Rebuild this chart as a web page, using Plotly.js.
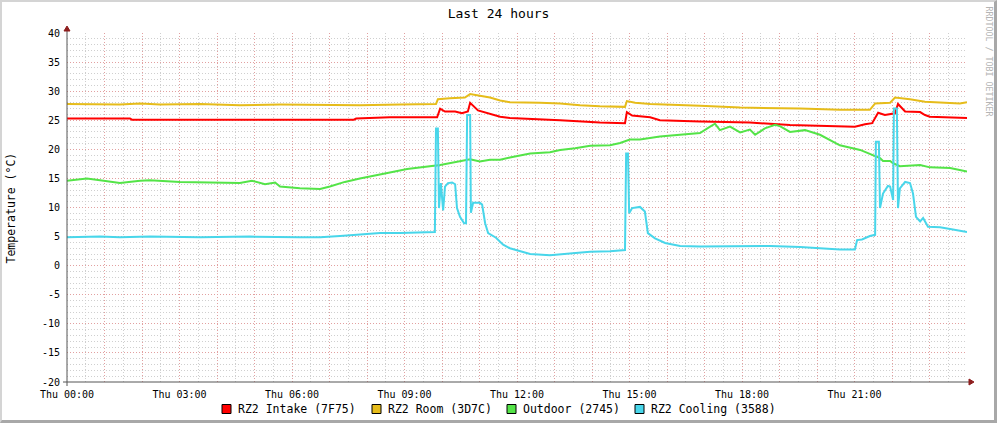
<!DOCTYPE html>
<html>
<head>
<meta charset="utf-8">
<script src="https://cdn.plot.ly/plotly-3.0.1.min.js"></script>
<style>
  html, body { margin: 0; padding: 0; background: #fff; }
  #wrap { position: relative; width: 997px; height: 423px; overflow: hidden; }
  #chart { position: absolute; left: 0; top: 0; width: 997px; height: 423px; }
  #frame { position: absolute; left: 0; top: 0; width: 997px; height: 423px; box-sizing: border-box;
           border-top: 2px solid #d4d4d4; border-left: 2px solid #d4d4d4;
           border-right: 3px solid #a8a8a8; border-bottom: 3px solid #a8a8a8; pointer-events: none; }
</style>
</head>
<body>
<div id="wrap"><div id="chart"></div><div id="frame"></div></div>
<script>
// ---- Data (hours since Thu 00:00, °C) ----
const seriesNames = ['RZ2 Intake (7F75)', 'RZ2 Room (3D7C)', 'Outdoor (2745)', 'RZ2 Cooling (3588)'];

const intakeT = [0,1.68,1.73,3.55,4.35,4.88,6.21,7.65,7.71,8.61,9.68,9.87,9.95,10.08,10.35,10.53,10.69,10.75,10.96,11.28,11.55,11.81,12.61,13.15,14.21,14.88,14.93,15.07,15.55,15.81,16.88,18.21,19.28,20.61,21.01,21.28,21.47,21.63,21.81,22.08,22.16,22.35,22.75,22.88,23.01,24.0];
const intakeV = [25.3,25.3,25.1,25.1,25.2,25.1,25.1,25.1,25.3,25.5,25.5,25.5,27.0,26.5,26.5,26.2,26.5,28.0,26.7,26.1,25.6,25.4,25.2,25.0,24.6,24.5,26.4,25.8,25.5,25.0,24.8,24.6,24.2,24.0,23.9,24.3,24.5,26.3,25.9,26.2,27.8,26.5,26.4,25.9,25.6,25.4];

const roomT = [0,0.88,1.41,1.95,2.48,3.55,4.61,5.68,6.75,7.81,8.88,9.68,9.84,9.89,10.21,10.61,10.75,11.01,11.28,11.55,11.81,12.61,13.15,13.68,14.21,14.88,14.93,15.15,15.55,16.88,17.95,19.55,20.61,21.41,21.55,21.95,22.08,22.48,22.88,23.81,24.0];
const roomV = [27.8,27.8,27.7,27.9,27.7,27.8,27.6,27.7,27.6,27.6,27.7,27.7,27.8,28.6,28.8,28.9,29.5,29.2,28.9,28.4,28.1,28.0,27.9,27.6,27.4,27.3,28.3,28.0,27.8,27.5,27.2,27.0,26.8,26.8,27.9,28.0,28.9,28.6,28.2,27.9,28.1];

const outdoorT = [0,0.53,0.88,1.41,1.95,2.21,3.01,3.81,4.61,4.93,5.28,5.55,5.68,6.21,6.75,7.01,7.41,7.81,8.35,8.61,9.07,9.41,9.95,10.75,11.01,11.28,11.55,11.81,12.35,12.88,13.15,13.55,13.95,14.48,14.75,15.01,15.28,15.81,16.35,16.88,17.15,17.28,17.41,17.68,17.95,18.21,18.35,18.61,18.88,19.01,19.28,19.68,20.08,20.61,21.15,21.41,21.68,21.76,21.95,22.03,22.21,22.75,23.01,23.55,24.0];
const outdoorV = [14.6,15.0,14.7,14.2,14.6,14.7,14.4,14.3,14.2,14.6,14.0,14.3,13.6,13.3,13.2,13.6,14.4,15.0,15.6,16.0,16.6,16.9,17.3,18.3,17.9,18.2,18.2,18.6,19.3,19.5,19.9,20.2,20.6,20.7,21.1,21.7,21.7,22.2,22.5,22.8,23.9,24.4,23.3,23.9,22.9,23.4,22.5,23.6,24.2,24.0,23.0,23.3,22.5,20.7,19.9,19.2,18.5,18.0,18.0,17.6,17.1,17.3,16.9,16.8,16.2];

const coolT = [0,0.88,1.41,2.21,3.55,4.88,6.21,6.75,7.28,7.81,8.35,8.88,9.81,9.84,9.89,9.92,9.97,10.03,10.08,10.16,10.27,10.35,10.40,10.48,10.59,10.64,10.67,10.75,10.77,10.83,11.01,11.07,11.15,11.23,11.44,11.63,11.81,12.35,12.88,13.41,13.95,14.48,14.88,14.91,14.96,14.99,15.07,15.28,15.41,15.49,15.68,15.95,16.35,16.88,17.95,18.75,19.55,20.08,20.61,21.01,21.07,21.20,21.41,21.55,21.57,21.65,21.68,21.76,21.89,21.95,22.03,22.05,22.13,22.16,22.21,22.35,22.48,22.56,22.64,22.75,22.83,22.96,23.28,23.55,24.0];
const coolV = [4.9,5.0,4.9,5.0,4.9,5.0,4.9,4.9,5.1,5.4,5.6,5.6,5.8,23.6,23.6,9.9,14.2,9.5,13.6,14.2,14.3,14.0,9.9,8.4,7.3,7.3,25.9,25.9,9.1,10.8,10.8,10.5,7.3,5.6,4.8,3.6,3.0,2.0,1.8,2.1,2.4,2.5,2.7,19.3,19.3,9.0,9.9,10.1,9.3,5.6,4.7,3.9,3.4,3.3,3.3,3.4,3.2,3.0,2.8,2.8,4.4,4.5,5.1,5.3,21.3,21.3,9.9,12.4,13.7,13.6,11.3,27.0,27.0,9.9,13.3,14.4,14.2,12.4,8.4,7.6,8.2,6.7,6.6,6.3,5.8];

const xTickHours = [0,1,2,3,4,5,6,7,8,9,10,11,12,13,14,15,16,17,18,19,20,21,22,23,24];
const xTickLabels = ['Thu 00:00','','','Thu 03:00','','','Thu 06:00','','','Thu 09:00','','','Thu 12:00','','','Thu 15:00','','','Thu 18:00','','','Thu 21:00','','',''];
const yTickVals = [-20,-15,-10,-5,0,5,10,15,20,25,30,35,40];
const yTickLabels = ['-20','-15','-10','-5','0','5','10','15','20','25','30','35','40'];

// ---- Styling ----
const colors = ['#FF0000', '#E6BC1A', '#54E448', '#48D6EA'];
const MONO = 'DejaVu Sans Mono, monospace';
const L = 67, R = 967, T = 33, B = 382;
const px2x = p => (p - L) / (R - L);
const px2y = p => (B - p) / (B - T);

const seriesT = [intakeT, roomT, outdoorT, coolT];
const seriesV = [intakeV, roomV, outdoorV, coolV];
const data = seriesT.map((t, i) => ({
  x: t, y: seriesV[i], type: 'scatter', mode: 'lines', name: seriesNames[i],
  line: {color: colors[i], width: 2, shape: 'linear'}, hoverinfo: 'skip', showlegend: false
}));

const shapes = [
  // axis lines
  {type: 'line', xref: 'paper', yref: 'paper', x0: 0, x1: 0, y0: px2y(386), y1: px2y(29), line: {color: '#555555', width: 1}},
  {type: 'line', xref: 'paper', yref: 'paper', x0: px2x(63), x1: px2x(971), y0: 0, y1: 0, line: {color: '#555555', width: 1}},
  // arrows
  {type: 'path', xref: 'paper', yref: 'paper', fillcolor: '#8e1e1e', line: {color: '#8e1e1e', width: 1},
   path: `M ${px2x(64)},${px2y(31)} L ${px2x(70)},${px2y(31)} L ${px2x(67)},${px2y(26)} Z`},
  {type: 'path', xref: 'paper', yref: 'paper', fillcolor: '#8e1e1e', line: {color: '#8e1e1e', width: 1},
   path: `M ${px2x(969)},${px2y(379)} L ${px2x(969)},${px2y(385)} L ${px2x(974)},${px2y(382)} Z`}
];

const annotations = [
  {text: 'Temperature (°C)', xref: 'paper', yref: 'paper', x: px2x(10), y: 0.5, textangle: -90,
   showarrow: false, xanchor: 'center', yanchor: 'middle', font: {family: MONO, size: 11.5, color: '#000'}},
  {text: 'RRDTOOL / TOBI OETIKER', xref: 'paper', yref: 'paper', x: px2x(988.5), y: px2y(61), textangle: 90,
   showarrow: false, xanchor: 'center', yanchor: 'middle', font: {family: MONO, size: 8.3, color: '#b4b4b4'}}
];

// manual legend (rrdtool style squares)
const legendTextStart = [237, 387, 522, 650];
const legendY = 409;
seriesNames.forEach((name, i) => {
  const s = legendTextStart[i];
  shapes.push({type: 'rect', xref: 'paper', yref: 'paper',
    x0: px2x(s - 15), x1: px2x(s - 6), y0: px2y(legendY + 4.5), y1: px2y(legendY - 4.5),
    fillcolor: colors[i], line: {color: '#000', width: 1}});
  annotations.push({text: name, xref: 'paper', yref: 'paper', x: px2x(s - 1), y: px2y(legendY),
    showarrow: false, xanchor: 'left', yanchor: 'middle', font: {family: MONO, size: 11.5, color: '#000'}});
});

const layout = {
  width: 997, height: 423,
  margin: {l: L, r: 997 - R, t: T, b: 423 - B, pad: 0},
  paper_bgcolor: '#ffffff', plot_bgcolor: '#ffffff',
  showlegend: false,
  font: {family: MONO, size: 10, color: '#000'},
  title: {text: 'Last 24 hours', font: {family: MONO, size: 13, color: '#000'},
          xref: 'container', yref: 'container', x: 0.5, y: 1 - 13 / 423, xanchor: 'center', yanchor: 'middle'},
  xaxis: {
    range: [0, 24], tickmode: 'array', tickvals: xTickHours, ticktext: xTickLabels,
    showgrid: true, gridcolor: '#e2a0a0', griddash: '1px,2px', gridwidth: 1,
    minor: {tickmode: 'linear', tick0: 0, dtick: 0.5, showgrid: true, gridcolor: '#cfcfcf', griddash: '1px,2px', gridwidth: 1},
    zeroline: false, showline: false, ticks: 'outside', ticklen: 3, tickcolor: 'rgba(0,0,0,0)',
    tickfont: {family: MONO, size: 10, color: '#000'}, fixedrange: true
  },
  yaxis: {
    range: [-20, 40], tickmode: 'array', tickvals: yTickVals, ticktext: yTickLabels,
    showgrid: true, gridcolor: '#e2a0a0', griddash: '1px,2px', gridwidth: 1,
    minor: {tickmode: 'linear', tick0: 0, dtick: 1, showgrid: true, gridcolor: '#cfcfcf', griddash: '1px,2px', gridwidth: 1},
    zeroline: false, showline: false, ticks: 'outside', ticklen: 4, tickcolor: 'rgba(0,0,0,0)',
    tickfont: {family: MONO, size: 10, color: '#000'}, fixedrange: true
  },
  shapes: shapes,
  annotations: annotations
};

Plotly.newPlot('chart', data, layout, {staticPlot: true, displayModeBar: false});
</script>
</body>
</html>
